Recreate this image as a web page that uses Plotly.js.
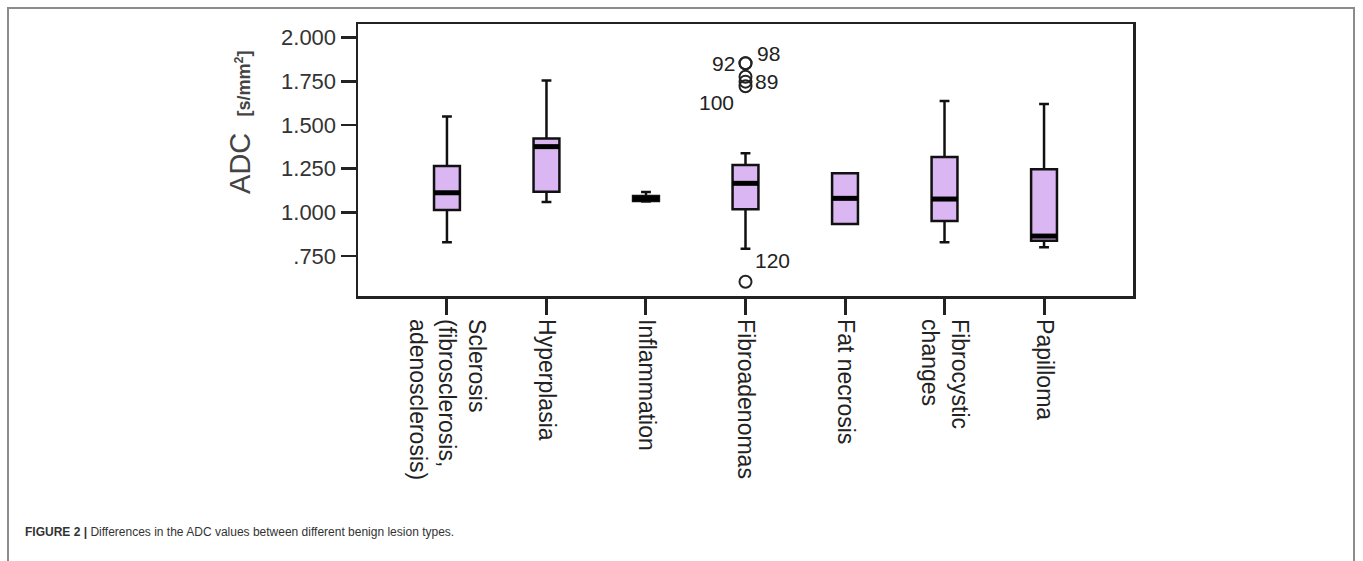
<!DOCTYPE html>
<html>
<head>
<meta charset="utf-8">
<script src="https://cdn.plot.ly/plotly-3.0.1.min.js"></script>
<style>
  html, body { margin: 0; padding: 0; background: #fff; }
  #wrap { position: relative; width: 1363px; height: 561px; overflow: hidden; }
  #chart { position: absolute; left: 0; top: 0; width: 1363px; height: 561px; }
  #frame { position: absolute; left: 7px; top: 7px; width: 1348px; height: 600px;
           border: 2px solid #8c8c8c; border-bottom: none; pointer-events: none; box-sizing: border-box; }
</style>
</head>
<body>
<div id="wrap">
  <div id="chart"></div>
  <div id="frame"></div>
</div>
<script>
// ---- data ----
const categories = [
  'Sclerosis<br>(fibrosclerosis,<br>adenosclerosis)',
  'Hyperplasia',
  'Inflammation',
  'Fibroadenomas',
  'Fat necrosis',
  'Fibrocystic<br>changes',
  'Papilloma'
];
const lowerWhisker = [0.828, 1.059, 1.062, 0.792, 0.933, 0.828, 0.800];
const q1Values     = [1.013, 1.118, 1.065, 1.017, 0.933, 0.950, 0.837];
const medians      = [1.112, 1.376, 1.078, 1.166, 1.080, 1.076, 0.864];
const q3Values     = [1.265, 1.422, 1.094, 1.271, 1.223, 1.317, 1.246];
const upperWhisker = [1.548, 1.754, 1.116, 1.338, 1.223, 1.637, 1.620];

const outlierCategory = ['Fibroadenomas','Fibroadenomas','Fibroadenomas','Fibroadenomas','Fibroadenomas','Fibroadenomas'];
const outlierValues   = [1.853, 1.853, 1.776, 1.748, 1.722, 0.603];
const outlierLabels   = ['92', '98', '', '89', '100', '120'];

const yTickValues = [0.75, 1.0, 1.25, 1.5, 1.75, 2.0];
const yTickLabels = ['.750', '1.000', '1.250', '1.500', '1.750', '2.000'];

// ---- styling helpers ----
const catIndex = categories.map((c, i) => i);
const idxOf = name => categories.indexOf(name);
const boxHalf = 0.13;
const labelOffsets = [ // [xanchor, xshift, yshift]
  ['right', -9, 0], ['left', 9, 10], ['left', 7, 0], ['left', 7, 0], ['right', -10, -16], ['left', 7, 21]
];

const boxTrace = {
  type: 'box',
  x: catIndex,
  lowerfence: lowerWhisker,
  q1: q1Values,
  median: medians,
  q3: q3Values,
  upperfence: upperWhisker,
  width: boxHalf * 2,
  whiskerwidth: 0.38,
  fillcolor: 'rgb(218,182,242)',
  line: { color: '#111', width: 2.5 },
  boxpoints: false,
  hoverinfo: 'skip',
  showlegend: false
};

const mx = [], my = [];
medians.forEach((m, i) => { mx.push(i - boxHalf, i + boxHalf, null); my.push(m, m, null); });
const medianTrace = {
  type: 'scatter', mode: 'lines', x: mx, y: my,
  line: { color: '#000', width: 5 }, hoverinfo: 'skip', showlegend: false
};

const outlierTrace = {
  type: 'scatter', mode: 'markers',
  x: outlierCategory.map(idxOf), y: outlierValues,
  marker: { symbol: 'circle-open', size: 12, color: '#222', line: { width: 2, color: '#222' } },
  hoverinfo: 'skip', showlegend: false, cliponaxis: false
};

const annotations = [];
outlierLabels.forEach((t, i) => {
  if (!t) return;
  annotations.push({
    x: idxOf(outlierCategory[i]), y: outlierValues[i], xref: 'x', yref: 'y',
    text: t, showarrow: false, xanchor: labelOffsets[i][0], yanchor: 'middle',
    xshift: labelOffsets[i][1], yshift: labelOffsets[i][2],
    font: { family: 'Liberation Sans, Arial, sans-serif', size: 21, color: '#222' }
  });
});

// y axis title (ADC with units)
annotations.push({
  xref: 'paper', yref: 'paper', x: -0.152, y: 0.637, xanchor: 'center', yanchor: 'middle',
  textangle: -90, showarrow: false,
  text: 'ADC  <span style="font-size:18px"><b>[s/mm<sup>2</sup>]</b></span>',
  font: { family: 'Liberation Sans, Arial, sans-serif', size: 29, color: '#444' }
});

// caption
annotations.push({
  xref: 'paper', yref: 'paper', x: -0.432, y: -0.868, xanchor: 'left', yanchor: 'middle',
  showarrow: false,
  text: '<b>FIGURE 2 |</b> Differences in the ADC values between different benign lesion types.',
  font: { family: 'Liberation Sans, Arial, sans-serif', size: 12, color: '#333' }
});

const layout = {
  width: 1363, height: 561,
  margin: { l: 358, r: 230, t: 24, b: 265, pad: 0 },
  paper_bgcolor: 'rgba(0,0,0,0)', plot_bgcolor: '#fff',
  showlegend: false,
  xaxis: {
    range: [-0.894, 6.894], tickmode: 'array', tickvals: catIndex, ticktext: categories,
    tickangle: 90, ticks: 'outside', ticklen: 16, tickwidth: 3, tickcolor: '#222',
    showline: true, linecolor: '#222', linewidth: 2.5, mirror: true,
    showgrid: false, zeroline: false,
    tickfont: { family: 'Liberation Sans, Arial, sans-serif', size: 23, color: '#222' }
  },
  yaxis: {
    range: [0.521, 2.078], tickmode: 'array', tickvals: yTickValues, ticktext: yTickLabels,
    ticks: 'outside', ticklen: 15, tickwidth: 2.5, tickcolor: '#222',
    showline: true, linecolor: '#222', linewidth: 2.5, mirror: true,
    showgrid: false, zeroline: false,
    tickfont: { family: 'Liberation Sans, Arial, sans-serif', size: 22, color: '#333' }
  },
  annotations: annotations
};

Plotly.newPlot('chart', [boxTrace, medianTrace, outlierTrace], layout, { staticPlot: true, displayModeBar: false });
</script>
</body>
</html>
